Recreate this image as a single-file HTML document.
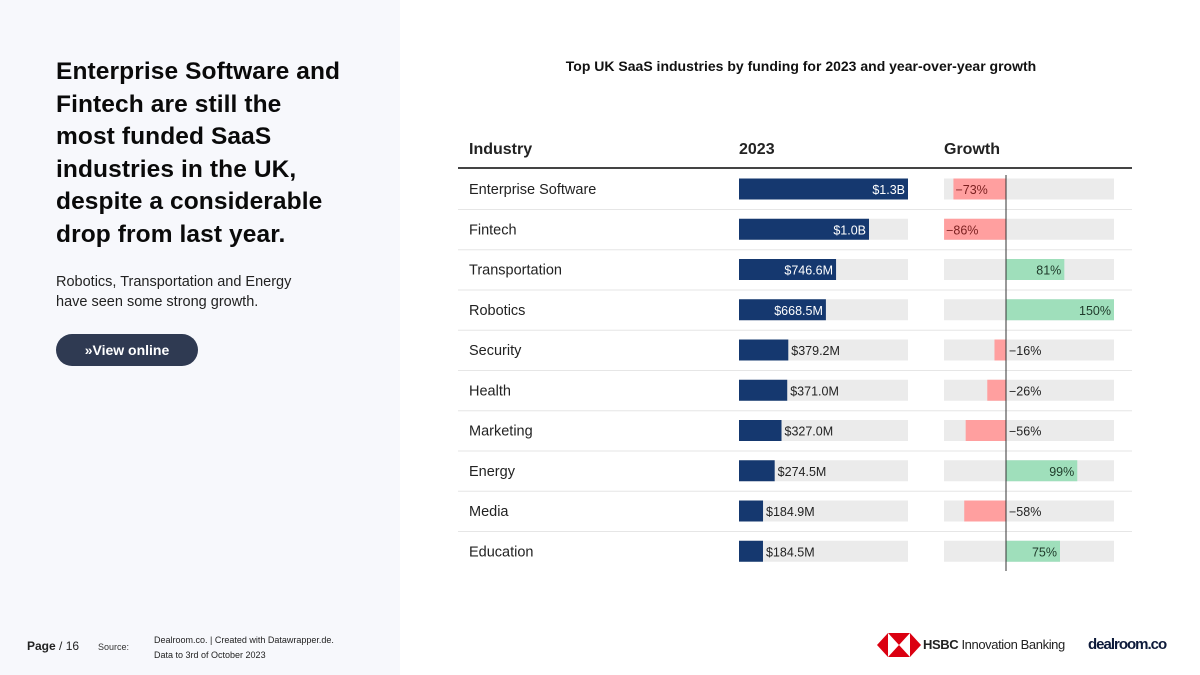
<!DOCTYPE html>
<html><head><meta charset="utf-8"><style>
body{margin:0;width:1200px;height:675px;position:relative;background:#fff;font-family:"Liberation Sans",sans-serif;overflow:hidden}
.abs{position:absolute}
#left{left:0;top:0;width:400px;height:675px;background:#f7f8fc}
h1{position:absolute;left:56px;top:56px;margin:0;font-size:24.5px;line-height:32.6px;font-weight:bold;color:#0a0a0a;letter-spacing:0.1px}
#sub{left:56px;top:272px;font-size:14.5px;line-height:20px;color:#222}
#btn{left:56px;top:334px;width:142px;height:32px;border-radius:16px;background:#2f3a52;color:#fff;font-weight:bold;font-size:14px;line-height:32px;text-align:center}
svg text{font-family:"Liberation Sans",sans-serif}
</style></head><body>
<div id="left" class="abs"></div>
<h1>Enterprise Software and<br>Fintech are still the<br>most funded SaaS<br>industries in the UK,<br>despite a considerable<br>drop from last year.</h1>
<div id="sub" class="abs">Robotics, Transportation and Energy<br>have seen some strong growth.</div>
<div id="btn" class="abs">»View online</div>
<div class="abs" style="left:27px;top:639px;font-size:12px;color:#222"><b>Page</b> / 16</div>
<div class="abs" style="left:98px;top:642px;font-size:9px;color:#333">Source:</div>
<div class="abs" style="left:154px;top:633px;font-size:9px;line-height:15px;color:#222">Dealroom.co. | Created with Datawrapper.de.<br>Data to 3rd of October 2023</div>
<div class="abs" style="left:877px;top:633px;">
<svg width="44" height="24"><polygon points="0,12 11,0 11,24" fill="#db0011"/><polygon points="44,12 33,0 33,24" fill="#db0011"/><polygon points="11,0 33,0 22,12" fill="#db0011"/><polygon points="11,24 33,24 22,12" fill="#db0011"/></svg></div>
<div class="abs" style="left:923px;top:637px;font-size:13px;color:#222;letter-spacing:-0.4px"><b>HSBC</b> Innovation Banking</div>
<div class="abs" style="left:1088px;top:636px;font-size:15px;font-weight:bold;color:#0d1a3a;letter-spacing:-1px">dealroom.co</div>
<div class="abs" style="left:456px;top:58px;width:690px;text-align:center;font-size:14px;font-weight:bold;color:#111">Top UK SaaS industries by funding for 2023 and year-over-year growth</div>
<svg id="chart" class="abs" style="left:0;top:0" width="1200" height="675"></svg>
<script>
const categories=["Enterprise Software","Fintech","Transportation","Robotics","Security","Health","Marketing","Energy","Media","Education"];
const funding=[1300,1000,746.6,668.5,379.2,371.0,327.0,274.5,184.9,184.5];
const fundingLabels=["$1.3B","$1.0B","$746.6M","$668.5M","$379.2M","$371.0M","$327.0M","$274.5M","$184.9M","$184.5M"];
const growth=[-73,-86,81,150,-16,-26,-56,99,-58,75];
const svg=document.getElementById('chart');const NS="http://www.w3.org/2000/svg";
function mk(t,a,txt){const e=document.createElementNS(NS,t);for(const k in a)e.setAttribute(k,a[k]);if(txt!=null)e.textContent=txt;svg.appendChild(e);return e;}
const fx0=739,fW=169,fMax=1300;const fx=v=>fx0+v/fMax*fW;
const gx0=1006,gPer=0.72;const gx=v=>gx0+v*gPer;
const rowY=i=>189+i*40.25;
let e;
e=mk('text',{x:469,y:154,'font-size':16,'font-weight':'bold',fill:'#222'},'Industry');
e=mk('text',{x:739,y:154,'font-size':16,'font-weight':'bold',fill:'#222'},'2023');
e=mk('text',{x:944,y:154,'font-size':16,'font-weight':'bold',fill:'#222'},'Growth');
e=mk('rect',{x:458,y:167,width:674,height:2,fill:'#444'});
categories.forEach((c,i)=>{const y=rowY(i);
 if(i<categories.length-1){e=mk('rect',{x:458,y:y+20,width:674,height:1,fill:'#e6e6e6'});}
 e=mk('text',{x:469,y:y+5,'font-size':14.5,fill:'#222'},c);
 e=mk('rect',{x:fx0,y:y-10.5,width:fW,height:21,fill:'#ebebeb'});
 const w=fx(funding[i])-fx0;
 e=mk('rect',{x:fx0,y:y-10.5,width:w,height:21,fill:'#15386f'});
 if(w>80){e=mk('text',{x:fx0+w-3,y:y+5,'font-size':12.5,fill:'#fff','text-anchor':'end'},fundingLabels[i]);}
 else{e=mk('text',{x:fx0+w+3,y:y+5,'font-size':12.5,fill:'#222'},fundingLabels[i]);}
 
 e=mk('rect',{x:944,y:y-10.5,width:170,height:21,fill:'#ebebeb'});
 const g=growth[i];const x2=gx(g);const gw=Math.abs(x2-gx0);
 e=mk('rect',{x:Math.min(x2,gx0),y:y-10.5,width:gw,height:21,fill:g<0?'#ff9f9f':'#9fdfbb'});
 const lbl=(g<0?'−':'')+Math.abs(g)+'%';
 if(g<0){ if(gw>45) e=mk('text',{x:x2+2,y:y+5,'font-size':12.5,fill:'#7a1f1f'},lbl); else e=mk('text',{x:gx0+3,y:y+5,'font-size':12.5,fill:'#222'},lbl);}
 else e=mk('text',{x:x2-3,y:y+5,'font-size':12.5,fill:'#1f3a2a','text-anchor':'end'},lbl);
 
});
e=mk('rect',{x:gx0-0.5,y:175,width:1,height:396,fill:'#333'});
</script>
</body></html>
